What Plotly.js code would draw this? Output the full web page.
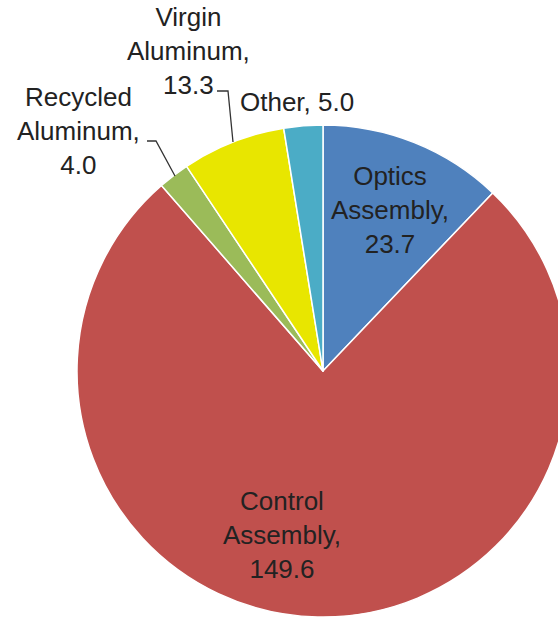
<!DOCTYPE html>
<html>
<head>
<meta charset="utf-8">
<script src="https://cdn.plot.ly/plotly-3.0.1.min.js"></script>
<style>
html, body { margin:0; padding:0; overflow:hidden; background:#fff; }
#chart { width:600px; height:618px; }
</style>
</head>
<body>
<div id="chart"></div>
<script>
var labels = ["Optics Assembly", "Control Assembly", "Recycled Aluminum", "Virgin Aluminum", "Other"];
var values = [23.7, 149.6, 4.0, 13.3, 5.0];
var labelLines = [["Optics", "Assembly,"], ["Control", "Assembly,"], ["Recycled", "Aluminum,"], ["Virgin", "Aluminum,"], ["Other,"]];
var colors = ["#4F81BD", "#C0504D", "#9BBB59", "#E8E600", "#4BACC6"];

var W = 600, H = 618;
function px(x) { return x / W; }
function py(y) { return 1 - y / H; }

// label block centers (pixels)
var labelPos = [[390, 210], [282, 535], [78, 131], [188, 51], [297, 102]];

var annotations = labels.map(function (l, i) {
  var lines = labelLines[i].slice();
  if (i === 4) { lines = [lines[0] + " " + values[i].toFixed(1)]; }
  else { lines.push(values[i].toFixed(1)); }
  return {
    xref: "paper", yref: "paper",
    x: px(labelPos[i][0]), y: py(labelPos[i][1]),
    xanchor: "center", yanchor: "middle",
    text: lines.join("<br>"),
    showarrow: false,
    align: "center",
    font: { family: "Liberation Sans, Arial, sans-serif", size: 26, color: "#222222" }
  };
});

var shapes = [
  { type: "path", xref: "paper", yref: "paper",
    path: "M " + px(147) + "," + py(141) + " L " + px(156) + "," + py(141) + " L " + px(175) + "," + py(176),
    line: { color: "#333", width: 1.3 } },
  { type: "path", xref: "paper", yref: "paper",
    path: "M " + px(217) + "," + py(91) + " L " + px(228) + "," + py(91) + " L " + px(233) + "," + py(142),
    line: { color: "#333", width: 1.3 } }
];

var trace = {
  type: "pie",
  labels: labels,
  values: values,
  sort: false,
  direction: "clockwise",
  rotation: 0,
  textinfo: "none",
  hoverinfo: "label+value",
  marker: { colors: colors, line: { color: "#ffffff", width: 1.5 } },
  domain: { x: [px(77), px(569)], y: [py(617), py(125)] }
};

var layout = {
  width: W, height: H,
  margin: { l: 0, r: 0, t: 0, b: 0 },
  paper_bgcolor: "#ffffff",
  showlegend: false,
  annotations: annotations,
  shapes: shapes
};

Plotly.newPlot("chart", [trace], layout, { displayModeBar: false, staticPlot: true });
</script>
</body>
</html>
